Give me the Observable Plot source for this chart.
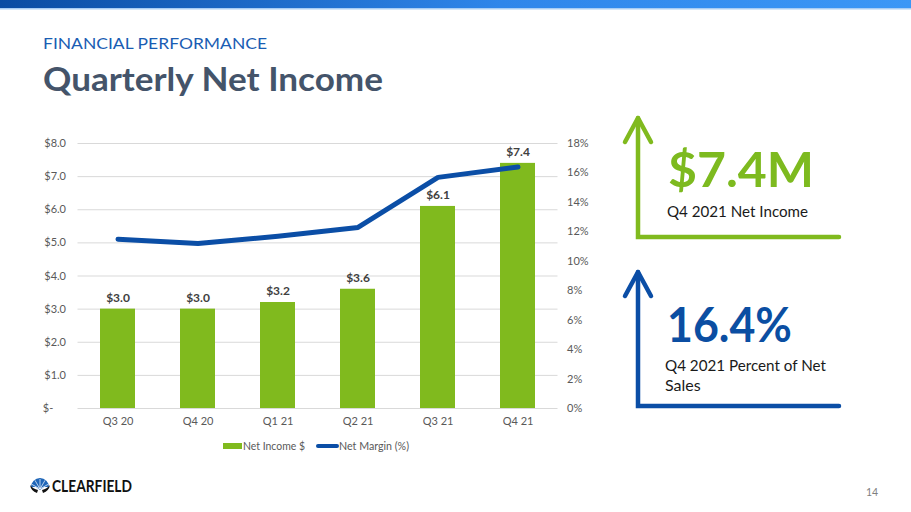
<!DOCTYPE html>
<html>
<head>
<meta charset="utf-8">
<script src="https://cdn.jsdelivr.net/npm/d3@7"></script>
<script src="https://cdn.jsdelivr.net/npm/@observablehq/plot@0.6"></script>
<style>
  html, body { margin: 0; padding: 0; background: #fff; }
  #page { position: relative; width: 911px; height: 512px; overflow: hidden; font-family: Lato, "Open Sans", sans-serif; }
  #deco { position: absolute; left: 0; top: 0; }
  #chart { position: absolute; left: 0; top: 130px; }
</style>
</head>
<body>
<div id="page">
  <svg id="deco" width="911" height="512" xmlns="http://www.w3.org/2000/svg"></svg>
  <div id="chart"></div>
</div>
<script>
// ---- Data ----
const quarters = ["Q3 20", "Q4 20", "Q1 21", "Q2 21", "Q3 21", "Q4 21"];
const netIncome = [3.0, 3.0, 3.2, 3.6, 6.1, 7.4];           // $M
const netMargin = [11.5, 11.2, 11.7, 12.3, 15.7, 16.4];     // %
const dollarTicks = [0, 1, 2, 3, 4, 5, 6, 7, 8];
const pctTicks = [0, 2, 4, 6, 8, 10, 12, 14, 16, 18];
const legendLabels = ["Net Income $", "Net Margin (%)"];

const GREEN = "#80ba1e";
const BLUE = "#0b4ea6";

const dollarMax = 8, pctMax = 18;
const pctToDollar = p => p * dollarMax / pctMax;

const rows = quarters.map((q, i) => ({ q, income: netIncome[i], margin: netMargin[i] }));

const chart = Plot.plot({
  width: 600,
  height: 305,
  marginLeft: 77.5,
  marginRight: 42.5,
  marginTop: 13,
  marginBottom: 27,
  style: { fontFamily: "Lato, 'Open Sans', sans-serif", fontSize: "11px", color: "#595959", background: "transparent" },
  x: { type: "band", domain: quarters, paddingInner: 0.5625, paddingOuter: 0.28 },
  y: { domain: [0, dollarMax] },
  marks: [
    Plot.gridY(dollarTicks, { stroke: "#d9d9d9", strokeOpacity: 1, strokeWidth: 1 }),
    Plot.barY(rows, { x: "q", y: "income", fill: GREEN }),
    Plot.line(rows, { x: "q", y: d => pctToDollar(d.margin), stroke: BLUE, strokeWidth: 5, strokeLinecap: "round", strokeLinejoin: "round" }),
    Plot.text(rows, { x: "q", y: "income", text: d => "$" + d.income.toFixed(1), dy: -11, fontWeight: "bold", fontSize: 12, fill: "#404040" }),
    Plot.axisY({ anchor: "left", ticks: dollarTicks, tickSize: 0, tickPadding: 12, label: null,
      tickFormat: d => d === 0 ? "$-\u2007\u2007" : "$" + d.toFixed(1), fill: "#595959" }),
    Plot.axisY({ anchor: "right", ticks: pctTicks.map(pctToDollar), tickSize: 0, tickPadding: 9, label: null,
      tickFormat: d => Math.round(d * pctMax / dollarMax) + "%", fill: "#595959" }),
    Plot.axisX({ tickSize: 0, tickPadding: 9, label: null, fill: "#595959" })
  ]
});
document.getElementById("chart").appendChild(chart);

// ---- Decorations (slide chrome) ----
const ns = "http://www.w3.org/2000/svg";
const deco = document.getElementById("deco");
function el(tag, attrs, text) {
  const e = document.createElementNS(ns, tag);
  for (const k in attrs) e.setAttribute(k, attrs[k]);
  if (text != null) e.textContent = text;
  deco.appendChild(e);
  return e;
}
deco.innerHTML = `<defs><linearGradient id="topg" x1="0" x2="1" y1="0" y2="0">
  <stop offset="0" stop-color="#0a4ca3"/><stop offset="0.55" stop-color="#2f86ea"/><stop offset="1" stop-color="#3b97f6"/>
</linearGradient></defs>`;
el("rect", { x: 0, y: 0, width: 911, height: 8, fill: "url(#topg)" });
el("rect", { x: 0, y: 8, width: 911, height: 1.5, fill: "#a8cdf4" });

const F = "Lato, 'Open Sans', sans-serif";
el("text", { x: 43, y: 49, "font-family": F, "font-size": 15.5, fill: "#1a5db3", textLength: 224, lengthAdjust: "spacingAndGlyphs" }, "FINANCIAL PERFORMANCE");
el("text", { x: 43, y: 91, "font-family": F, "font-size": 32, "font-weight": "bold", fill: "#44546a", textLength: 340, lengthAdjust: "spacingAndGlyphs" }, "Quarterly Net Income");

// Right panel arrows
const arrow = (color, tipY, bottomY) => {
  el("path", { d: `M625,${tipY + 24} L638,${tipY} L651,${tipY + 24}`, fill: "none", stroke: color, "stroke-width": 4.5, "stroke-linecap": "round", "stroke-linejoin": "round" });
  el("path", { d: `M638,${tipY} L638,${bottomY} L839,${bottomY}`, fill: "none", stroke: color, "stroke-width": 4.5, "stroke-linecap": "round", "stroke-linejoin": "miter" });
};
arrow(GREEN, 118, 237);
arrow(BLUE, 272, 406);

el("text", { x: 668, y: 187, "font-family": F, "font-size": 48, "font-weight": "bold", fill: "#7dba1f", textLength: 146, lengthAdjust: "spacingAndGlyphs" }, "$" + netIncome[5].toFixed(1) + "M");
el("text", { x: 667, y: 217, "font-family": F, "font-size": 16, fill: "#1a1a1a", textLength: 141, lengthAdjust: "spacingAndGlyphs" }, "Q4 2021 Net Income");
el("text", { x: 667, y: 342, "font-family": F, "font-size": 48, "font-weight": "bold", fill: "#0b4ea2", textLength: 125, lengthAdjust: "spacingAndGlyphs" }, netMargin[5].toFixed(1) + "%");
el("text", { x: 665, y: 371, "font-family": F, "font-size": 16, fill: "#1a1a1a", textLength: 161, lengthAdjust: "spacingAndGlyphs" }, "Q4 2021 Percent of Net");
el("text", { x: 665, y: 391, "font-family": F, "font-size": 16, fill: "#1a1a1a" }, "Sales");

// Legend
el("rect", { x: 223, y: 443, width: 19, height: 6, fill: GREEN });
el("text", { x: 243, y: 450, "font-family": F, "font-size": 11.5, fill: "#595959", textLength: 62, lengthAdjust: "spacingAndGlyphs" }, legendLabels[0]);
el("line", { x1: 318, x2: 337, y1: 446, y2: 446, stroke: BLUE, "stroke-width": 4, "stroke-linecap": "round" });
el("text", { x: 339, y: 450, "font-family": F, "font-size": 11.5, fill: "#595959", textLength: 70, lengthAdjust: "spacingAndGlyphs" }, legendLabels[1]);

// Logo
el("path", { d: "M31,487 A9,9 0 0 1 49,487 L44,487 L40,490 L36,487 Z", fill: "#1f66b8" });
for (const a of [-60, -30, 0, 30, 60]) {
  const r = a * Math.PI / 180;
  el("line", { x1: 40, y1: 489, x2: 40 + 10 * Math.sin(r), y2: 489 - 10 * Math.cos(r), stroke: "#ffffff", "stroke-width": 0.7 });
}
el("path", { d: "M30,485 Q31,491 37,493 L38,490 Q33,489 30,485 Z", fill: "#111" });
el("path", { d: "M50,485 Q49,491 43,493 L42,490 Q47,489 50,485 Z", fill: "#111" });
el("text", { x: 52, y: 492, "font-family": F, "font-size": 17, "font-weight": "bold", fill: "#111", textLength: 80, lengthAdjust: "spacingAndGlyphs" }, "CLEARFIELD");

el("text", { x: 866, y: 496, "font-family": F, "font-size": 10.5, fill: "#7f7f7f" }, "14");
</script>
</body>
</html>
